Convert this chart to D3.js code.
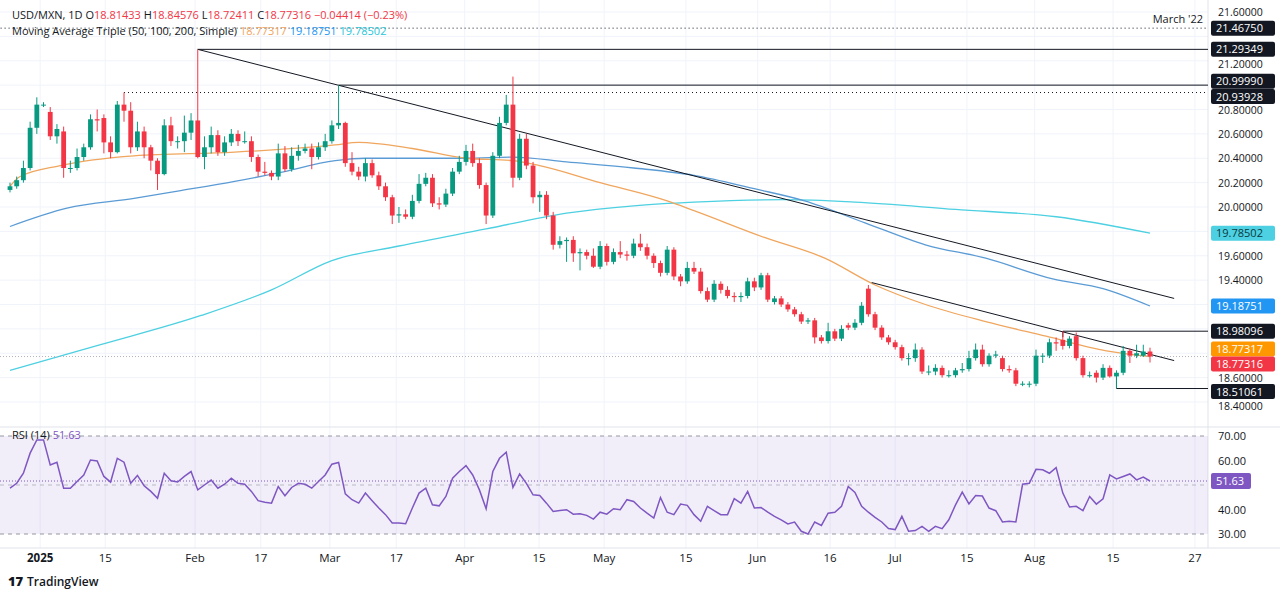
<!DOCTYPE html>
<html><head><meta charset="utf-8">
<script src="https://cdn.jsdelivr.net/npm/d3@7"></script>
<style>body{margin:0;background:#fff;font-family:"Open Sans","Noto Sans",sans-serif}</style>
</head><body><svg id="c" width="1280" height="596"></svg>
<script>
// ---------- DATA ----------
const candles = [
[20.14,20.20,20.12,20.17],[20.17,20.25,20.15,20.22],[20.22,20.38,20.20,20.32],[20.32,20.70,20.30,20.65],[20.65,20.90,20.60,20.84],
[20.84,20.86,20.82,20.84],[20.78,20.82,20.55,20.58],[20.58,20.68,20.52,20.64],[20.62,20.66,20.24,20.32],[20.32,20.38,20.28,20.32],
[20.32,20.48,20.30,20.41],[20.41,20.52,20.38,20.49],[20.49,20.76,20.47,20.72],[20.72,20.80,20.62,20.71],[20.73,20.76,20.44,20.53],
[20.53,20.58,20.40,20.45],[20.45,20.87,20.44,20.84],[20.84,20.939,20.70,20.79],[20.79,20.86,20.44,20.49],[20.49,20.70,20.46,20.62],
[20.62,20.66,20.40,20.49],[20.49,20.51,20.30,20.38],[20.38,20.40,20.14,20.27],[20.27,20.72,20.26,20.67],[20.67,20.74,20.50,20.54],
[20.54,20.58,20.48,20.54],[20.54,20.75,20.45,20.61],[20.61,20.77,20.55,20.71],[20.71,21.293,20.40,20.41],[20.41,20.58,20.31,20.49],
[20.49,20.66,20.44,20.59],[20.59,20.63,20.42,20.45],[20.45,20.58,20.42,20.53],[20.53,20.64,20.50,20.60],[20.60,20.63,20.50,20.54],
[20.54,20.62,20.52,20.54],[20.54,20.58,20.37,20.41],[20.41,20.43,20.25,20.29],[20.29,20.37,20.26,20.28],[20.28,20.30,20.22,20.25],
[20.25,20.52,20.22,20.44],[20.44,20.50,20.29,20.31],[20.31,20.49,20.29,20.42],[20.42,20.51,20.38,20.46],[20.46,20.52,20.44,20.48],
[20.48,20.52,20.31,20.41],[20.41,20.53,20.39,20.49],[20.49,20.60,20.46,20.54],[20.54,20.71,20.52,20.67],[20.67,20.999,20.64,20.69],
[20.69,20.70,20.33,20.36],[20.36,20.45,20.26,20.29],[20.29,20.33,20.22,20.25],[20.25,20.40,20.21,20.36],[20.36,20.39,20.24,20.26],
[20.26,20.29,20.14,20.17],[20.17,20.20,20.05,20.08],[20.08,20.10,19.86,19.93],[19.93,20.00,19.87,19.94],[19.94,19.98,19.90,19.92],
[19.92,20.10,19.90,20.05],[20.05,20.27,20.03,20.19],[20.19,20.28,20.17,20.24],[20.24,20.27,20.00,20.03],[20.03,20.08,19.98,20.02],
[20.02,20.15,20.00,20.11],[20.11,20.32,20.09,20.29],[20.29,20.42,20.27,20.37],[20.37,20.51,20.34,20.46],[20.46,20.52,20.33,20.36],
[20.36,20.40,20.15,20.18],[20.18,20.20,19.86,19.93],[19.93,20.45,19.91,20.42],[20.42,20.74,20.40,20.69],[20.69,20.92,20.67,20.84],
[20.84,21.07,20.16,20.24],[20.24,20.60,20.22,20.56],[20.56,20.60,20.31,20.34],[20.34,20.37,20.03,20.08],[20.08,20.13,19.96,20.10],
[20.10,20.13,19.90,19.93],[19.93,19.96,19.65,19.69],[19.69,19.76,19.66,19.72],[19.72,19.75,19.55,19.73],[19.73,19.76,19.55,19.62],
[19.62,19.66,19.48,19.63],[19.63,19.65,19.57,19.60],[19.60,19.66,19.50,19.51],[19.51,19.72,19.49,19.68],[19.68,19.70,19.52,19.55],
[19.55,19.66,19.53,19.63],[19.63,19.72,19.58,19.61],[19.61,19.64,19.56,19.60],[19.60,19.74,19.58,19.70],[19.70,19.78,19.64,19.67],
[19.67,19.70,19.57,19.60],[19.60,19.62,19.50,19.54],[19.54,19.56,19.43,19.46],[19.46,19.68,19.44,19.65],[19.65,19.67,19.40,19.43],
[19.43,19.45,19.35,19.39],[19.39,19.55,19.37,19.50],[19.50,19.55,19.45,19.47],[19.47,19.50,19.29,19.31],[19.31,19.34,19.22,19.24],
[19.24,19.40,19.22,19.37],[19.37,19.39,19.29,19.32],[19.32,19.35,19.25,19.27],[19.27,19.30,19.22,19.26],[19.26,19.30,19.22,19.27],
[19.27,19.42,19.25,19.39],[19.39,19.42,19.31,19.34],[19.34,19.46,19.32,19.44],[19.44,19.46,19.22,19.24],[19.22,19.27,19.20,19.25],
[19.25,19.27,19.18,19.20],[19.20,19.22,19.14,19.16],[19.16,19.18,19.10,19.12],[19.12,19.14,19.04,19.06],[19.06,19.09,19.04,19.07],
[19.07,19.09,18.88,18.93],[18.93,18.95,18.88,18.90],[18.90,19.05,18.88,18.98],[18.98,19.00,18.90,18.92],[18.92,19.03,18.90,19.00],
[19.03,19.05,18.99,19.01],[19.01,19.08,18.99,19.05],[19.05,19.22,19.03,19.19],[19.33,19.36,19.10,19.12],[19.12,19.14,18.99,19.01],
[19.01,19.03,18.91,18.93],[18.93,18.95,18.87,18.89],[18.89,18.91,18.83,18.85],[18.85,18.87,18.74,18.76],[18.76,18.80,18.70,18.76],
[18.76,18.88,18.73,18.83],[18.83,18.85,18.63,18.65],[18.65,18.70,18.62,18.65],[18.65,18.71,18.62,18.68],[18.68,18.70,18.60,18.62],
[18.62,18.66,18.60,18.62],[18.62,18.68,18.60,18.66],[18.66,18.72,18.64,18.67],[18.67,18.82,18.65,18.76],[18.76,18.88,18.74,18.83],
[18.83,18.87,18.69,18.71],[18.71,18.80,18.69,18.78],[18.78,18.82,18.76,18.79],[18.76,18.78,18.65,18.67],[18.67,18.70,18.64,18.66],
[18.66,18.68,18.53,18.55],[18.55,18.57,18.53,18.55],[18.55,18.57,18.52,18.55],[18.55,18.83,18.53,18.78],[18.78,18.80,18.72,18.78],
[18.78,18.92,18.76,18.89],[18.89,18.93,18.82,18.88],[18.91,18.98096,18.83,18.86],[18.86,18.94,18.84,18.92],[18.94,18.97,18.74,18.76],
[18.76,18.78,18.60,18.62],[18.62,18.65,18.60,18.62],[18.64,18.66,18.56,18.60],[18.60,18.71,18.58,18.68],[18.68,18.70,18.60,18.61],
[18.61,18.66,18.51061,18.64],[18.64,18.86,18.62,18.82],[18.82,18.84,18.72,18.78],[18.78,18.87,18.76,18.80],[18.78,18.87,18.77,18.81433],
[18.81433,18.84576,18.72411,18.77316]];
const ma50 = [[0,20.17],[1.5,20.25],[7.5,20.34],[18.5,20.42],[33.5,20.45],[48.5,20.51],[52,20.53],[60,20.48],[68,20.40],[75,20.38],[79,20.34],[88,20.20],[98,20.05],[102,19.97],[112.5,19.75],[121.5,19.58],[129,19.36],[136.5,19.20],[145.5,19.06],[154.5,18.94],[163.5,18.82],[170,18.77317]];
const ma100 = [[0,19.84],[8.5,19.99],[18.5,20.07],[25,20.13],[33.5,20.21],[40,20.28],[48.5,20.38],[53,20.40],[68,20.40],[75,20.41],[83,20.37],[93,20.32],[102,20.26],[111,20.15],[118.5,20.05],[127.5,19.87],[136.5,19.69],[145.5,19.58],[155.5,19.41],[163,19.33],[170,19.18751]];
const ma200 = [[0,18.66],[13.5,18.87],[28.5,19.11],[39,19.32],[48,19.56],[58,19.68],[71,19.82],[83,19.95],[93,20.01],[102,20.04],[115.5,20.06],[126,20.04],[141,19.98],[156,19.92],[170,19.78502]];
const rsi = [48.7,50.7,54.8,63,68.4,68.4,58.2,59.3,48.7,48.7,51.4,54.1,60.2,59.8,53.5,51.2,60.9,59.3,50.7,53.9,
49.7,47.4,44.6,54.8,51.7,51.2,53.5,55.5,48,50,52,48.7,50.3,52.8,50.7,50.3,47.4,43.6,43,42.6,
49.4,45.6,49,50.7,50.3,48.7,51.4,54.1,58.5,59.2,46.4,44,42.6,46.7,43.6,40.6,37.9,34.5,34.5,34.2,
40.6,46.7,48.7,41.9,41.5,45.3,52.8,55.5,57.9,54.1,48,40.3,55.5,60.9,63.4,49,54.5,50.7,46,45.7,
42.6,39.2,39.6,39.9,38.1,38.3,37.6,36.1,38.9,38.1,40.3,39.9,44,43.3,40.6,38.5,36.5,44.9,38.9,37.9,
42.2,41.7,37.9,35.2,41.3,39.5,37.9,37.9,44.4,42.6,47.4,40.6,40.8,38.9,37.2,35.8,34.1,34.9,31.1,30,
34.9,33.5,38.5,38.9,41.3,49.4,47,41.3,38.9,36.8,34.9,32.2,31.8,37.2,31.1,31.4,33.1,31.1,33.1,32.2,
35.8,41.9,47.1,42.3,45.7,45.5,40.6,39.5,34.9,35.2,34.9,50.3,50.7,56.4,56.2,54.8,57.1,46.7,41,41.3,
39.5,45.3,42.2,44.4,54.1,52.5,53.5,54.5,52.1,53.2,51.63];
const timeTicks = [[4.5,"2025"],[14.2,"15"],[27.6,"Feb"],[37.4,"17"],[47.7,"Mar"],[57.6,"17"],[67.8,"Apr"],[78.9,"15"],[88.6,"May"],[100.8,"15"],[111.5,"Jun"],[122.3,"16"],[132,"Jul"],[142.7,"15"],[152.8,"Aug"],[164.5,"15"],[176.7,"27"]];
const priceTicks = [21.6,21.2,20.8,20.6,20.4,20.2,20.0,19.6,19.4,18.6,18.4];
const priceGrid = [21.6,21.4,21.2,21.0,20.8,20.6,20.4,20.2,20.0,19.8,19.6,19.4,19.2,19.0,18.8,18.6,18.4];
const rsiTicks = [70,60,40,30];
const trendLines = [[[28,21.29349],[173.6,19.25]],[[128.5,19.38],[173.6,18.74]]];
const levels = [{v:21.4675,from:-2,dash:"1 3",label:"21.46750"},{v:21.29349,from:28,label:"21.29349"},{v:20.9999,from:49,label:"20.99990",dy:-4},{v:20.93928,from:17,dash:"1 3",label:"20.93928",dy:4},{v:18.98096,from:157,label:"18.98096",tick:1},{v:18.51061,from:165,label:"18.51061",tick:-1,dy:3}];
const badges = [{v:19.78502,t:"19.78502",bg:"#4dd0e1",fg:"#0b3a40"},{v:19.18751,t:"19.18751",bg:"#2196f3",fg:"#fff"},{v:18.77317,t:"18.77317",bg:"#ff9800",fg:"#fff",dy:-7.5},{v:18.77316,t:"18.77316",bg:"#f23645",fg:"#fff",dy:7.5}];

// ---------- DRAW ----------
const svg = d3.select("#c");
const W=1208;
const x = d3.scaleLinear().domain([0,170]).range([10,1150]);
const y = d3.scaleLinear().domain([18.4,21.6]).range([402,12]);
const yr = d3.scaleLinear().domain([30,70]).range([534,436]);
const up="#089981", dn="#f23645";

const g = svg.append("g");
g.selectAll(".vg").data(timeTicks).join("line").attr("x1",d=>x(d[0])).attr("x2",d=>x(d[0])).attr("y1",0).attr("y2",548).attr("stroke","#f0f3fa");
g.selectAll(".hg").data(priceGrid).join("line").attr("x1",0).attr("x2",W).attr("y1",d=>y(d)).attr("y2",d=>y(d)).attr("stroke","#f0f3fa");
svg.append("line").attr("x1",0).attr("x2",1280).attr("y1",427).attr("y2",427).attr("stroke","#e0e3eb");
svg.append("line").attr("x1",0).attr("x2",1280).attr("y1",548).attr("y2",548).attr("stroke","#e0e3eb");
svg.append("line").attr("x1",W).attr("x2",W).attr("y1",0).attr("y2",548).attr("stroke","#e0e3eb");

const line = d3.line().x(d=>x(d[0])).y(d=>y(d[1])).curve(d3.curveMonotoneX);
svg.append("path").attr("d",line(ma200)).attr("fill","none").attr("stroke","#4dd0e1").attr("stroke-width",1.3);
svg.append("path").attr("d",line(ma100)).attr("fill","none").attr("stroke","#5b9bd5").attr("stroke-width",1.3);
svg.append("path").attr("d",line(ma50)).attr("fill","none").attr("stroke","#f0a65e").attr("stroke-width",1.3);

levels.forEach(l=>{
  svg.append("line").attr("x1",x(l.from)).attr("x2",W).attr("y1",y(l.v)).attr("y2",y(l.v))
    .attr("stroke","#131722").attr("stroke-width",1).attr("stroke-dasharray",l.dash||null);
  if(l.tick) svg.append("line").attr("x1",x(l.from)).attr("x2",x(l.from)).attr("y1",y(l.v)).attr("y2",y(l.v)+(l.tick>0?6:-14)).attr("stroke","#131722");
});
svg.append("line").attr("x1",0).attr("x2",W).attr("y1",y(18.77316)).attr("y2",y(18.77316)).attr("stroke","#b2b5be").attr("stroke-dasharray","1 2");
trendLines.forEach(t=>svg.append("line").attr("x1",x(t[0][0])).attr("y1",y(t[0][1])).attr("x2",x(t[1][0])).attr("y2",y(t[1][1])).attr("stroke","#131722").attr("stroke-width",1));

const cg = svg.append("g");
cg.selectAll(".w").data(candles).join("line").attr("x1",(d,i)=>x(i)).attr("x2",(d,i)=>x(i)).attr("y1",d=>y(d[1])).attr("y2",d=>y(d[2])).attr("stroke",d=>d[3]>=d[0]?up:dn);
cg.selectAll(".b").data(candles).join("rect").attr("x",(d,i)=>x(i)-2.4).attr("width",4.8)
  .attr("y",d=>y(Math.max(d[0],d[3]))).attr("height",d=>Math.max(1,Math.abs(y(d[0])-y(d[3])))).attr("fill",d=>d[3]>=d[0]?up:dn);

const tickShift = {21.2:3, 18.6:0.5, 18.4:4};
svg.selectAll(".pt").data(priceTicks).join("text").attr("x",1218).attr("y",d=>y(d)+4+(tickShift[d]||0)).attr("font-size",10.5).attr("fill","#131722").text(d=>d.toFixed(5));
function badge(yy,t,bg,fg){svg.append("rect").attr("x",1211).attr("y",yy-7.5).attr("width",64).attr("height",15).attr("rx",2).attr("fill",bg);
  svg.append("text").attr("x",1216).attr("y",yy+4).attr("font-size",11).attr("fill",fg).text(t);}
levels.forEach(l=>badge(y(l.v)+(l.dy||0),l.label,"#131722","#fff"));
badges.forEach(b=>badge(y(b.v)+(b.dy||0),b.t,b.bg,b.fg));
svg.append("text").attr("x",1203).attr("y",23).attr("text-anchor","end").attr("font-size",11).attr("fill","#131722").text("March '22");

svg.append("rect").attr("x",0).attr("width",W).attr("y",yr(70)).attr("height",yr(30)-yr(70)).attr("fill","rgba(126,87,194,0.1)");
[70,30].forEach(v=>svg.append("line").attr("x1",0).attr("x2",W).attr("y1",yr(v)).attr("y2",yr(v)).attr("stroke","#9598a1").attr("stroke-dasharray","4 4"));
svg.append("line").attr("x1",0).attr("x2",W).attr("y1",yr(50)).attr("y2",yr(50)).attr("stroke","#9598a1").attr("stroke-dasharray","4 4").attr("opacity",0.6);
svg.append("line").attr("x1",0).attr("x2",W).attr("y1",yr(51.63)).attr("y2",yr(51.63)).attr("stroke","#7e57c2").attr("stroke-dasharray","1 2");
svg.append("path").attr("d",d3.line().x((d,i)=>x(i)).y(d=>yr(d))(rsi)).attr("fill","none").attr("stroke","#7e57c2").attr("stroke-width",1.5);
svg.selectAll(".rt").data(rsiTicks).join("text").attr("x",1218).attr("y",d=>yr(d)+4).attr("font-size",11).attr("fill","#131722").text(d=>d.toFixed(2));
svg.append("rect").attr("x",1211).attr("y",yr(51.63)-8).attr("width",40).attr("height",16).attr("rx",2).attr("fill","#7e57c2");
svg.append("text").attr("x",1216).attr("y",yr(51.63)+4).attr("font-size",11).attr("fill","#fff").text("51.63");
const rl = svg.append("text").attr("x",12).attr("y",439).attr("font-size",11);
rl.append("tspan").attr("fill","#131722").text("RSI (14) ");
rl.append("tspan").attr("fill","#7e57c2").text("51.63");

svg.selectAll(".tt").data(timeTicks).join("text").attr("x",d=>x(d[0])).attr("y",562).attr("text-anchor","middle").attr("font-size",11.5)
  .attr("font-weight",d=>d[1]==="2025"?"bold":"normal").attr("fill","#131722").text(d=>d[1]);

const l1 = svg.append("text").attr("x",12).attr("y",19).attr("font-size",11).attr("fill","#131722");
l1.append("tspan").text("USD/MXN, 1D  O");
l1.append("tspan").attr("fill",dn).text("18.81433");
l1.append("tspan").text("  H");
l1.append("tspan").attr("fill",dn).text("18.84576");
l1.append("tspan").text("  L");
l1.append("tspan").attr("fill",dn).text("18.72411");
l1.append("tspan").text("  C");
l1.append("tspan").attr("fill",dn).text("18.77316  −0.04414 (−0.23%)");
const l2 = svg.append("text").attr("x",12).attr("y",35).attr("font-size",11).attr("fill","#131722");
l2.append("tspan").text("Moving Average Triple (50, 100, 200, Simple)  ");
l2.append("tspan").attr("fill","#f0a65e").text("18.77317  ");
l2.append("tspan").attr("fill","#2196f3").text("19.18751  ");
l2.append("tspan").attr("fill","#26c6da").text("19.78502");

svg.append("text").attr("x",8).attr("y",586).attr("font-size",13).attr("font-weight","900").attr("fill","#131722").text("17");
svg.append("text").attr("x",27).attr("y",586).attr("font-size",12).attr("font-weight","600").attr("fill","#131722").text("TradingView");
</script></body></html>
